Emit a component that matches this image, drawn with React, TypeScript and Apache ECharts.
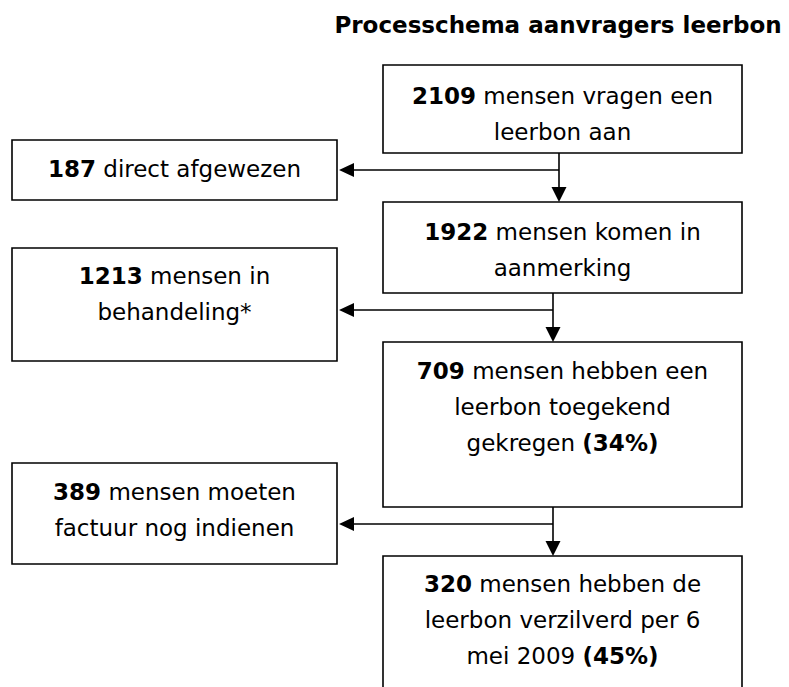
import React, { useEffect, useRef } from "react";
import * as echarts from "echarts";

// ---- Data ----
const titleText = "Processchema aanvragers leerbon";
const mainCounts = [2109, 1922, 709, 320];
const mainTexts = [
  " mensen vragen een\nleerbon aan",
  " mensen komen in\naanmerking",
  " mensen hebben een\nleerbon toegekend\ngekregen ",
  " mensen hebben de\nleerbon verzilverd per 6\nmei 2009 ",
];
const mainPercents: (number | null)[] = [null, null, 34, 45];
const sideCounts = [187, 1213, 389];
const sideTexts = [" direct afgewezen", " mensen in\nbehandeling*", " mensen moeten\nfactuur nog indienen"];

// ---- Layout ----
const W = 789;
const H = 687;
const mainX = 383;
const mainW = 359;
const mainTop = [65, 202, 342, 556];
const mainBottom = [153, 293, 507, 720];
const mainFirstLine = [96, 232, 371, 584];
const sideX = 12;
const sideW = 325;
const sideTop = [140, 248, 463];
const sideBottom = [200, 361, 564];
const sideFirstLine = [169, 276, 492];
const connX = [559, 553, 553];
const connY = [170, 310, 524];
const arrowTipX = 339;
const LH = 36;
const FONT = "'DejaVu Sans', Verdana, sans-serif";
const FS = 23;

function buildLabel(count: number, rest: string, pct: number | null) {
  return `{b|${count}}${rest}` + (pct !== null ? `{b|(${pct}%)}` : "");
}

export default function App() {
  const ref = useRef<HTMLDivElement>(null);
  useEffect(() => {
    if (!ref.current) return;
    const chart = echarts.init(ref.current, undefined, { renderer: "svg" });
    const els: any[] = [];
    const stroke = "#000";
    const lw = 1.6;
    const rich = {
      b: { fontWeight: "bold", fontFamily: FONT, fontSize: FS, lineHeight: LH, fill: "#000" },
    };
    const textStyle = (text: string, x: number, y: number) => ({
      type: "text",
      x,
      y,
      style: {
        text,
        fontFamily: FONT,
        fontSize: FS,
        lineHeight: LH,
        fill: "#000",
        align: "center",
        verticalAlign: "top",
        rich,
      },
      z: 10,
    });
    els.push({
      type: "text",
      x: 558,
      y: 25,
      style: {
        text: titleText,
        fontFamily: FONT,
        fontSize: 23,
        fontWeight: "bold",
        fill: "#000",
        align: "center",
        verticalAlign: "middle",
      },
    });
    mainCounts.forEach((c, i) => {
      els.push({
        type: "rect",
        shape: { x: mainX, y: mainTop[i], width: mainW, height: mainBottom[i] - mainTop[i] },
        style: { fill: "#fff", stroke, lineWidth: lw },
      });
      els.push(textStyle(buildLabel(c, mainTexts[i], mainPercents[i]), mainX + mainW / 2, mainFirstLine[i] - LH / 2));
    });
    sideCounts.forEach((c, i) => {
      els.push({
        type: "rect",
        shape: { x: sideX, y: sideTop[i], width: sideW, height: sideBottom[i] - sideTop[i] },
        style: { fill: "#fff", stroke, lineWidth: lw },
      });
      els.push(textStyle(buildLabel(c, sideTexts[i], null), sideX + sideW / 2, sideFirstLine[i] - LH / 2));
    });
    connX.forEach((cx, i) => {
      const y0 = mainBottom[i];
      const y1 = mainTop[i + 1];
      els.push({ type: "line", shape: { x1: cx, y1: y0, x2: cx, y2: y1 - 14 }, style: { stroke, lineWidth: lw } });
      els.push({
        type: "polygon",
        shape: { points: [[cx - 7.5, y1 - 15], [cx + 7.5, y1 - 15], [cx, y1]] },
        style: { fill: stroke },
      });
      const hy = connY[i];
      els.push({ type: "line", shape: { x1: cx, y1: hy, x2: arrowTipX + 14, y2: hy }, style: { stroke, lineWidth: lw } });
      els.push({
        type: "polygon",
        shape: { points: [[arrowTipX + 15, hy - 7], [arrowTipX + 15, hy + 7], [arrowTipX, hy]] },
        style: { fill: stroke },
      });
    });
    chart.setOption({ animation: false, graphic: { elements: els } });
    return () => chart.dispose();
  }, []);
  return (
    <div
      ref={ref}
      style={{ position: "fixed", left: 0, top: 0, width: W, height: H, background: "#fff" }}
    />
  );
}
